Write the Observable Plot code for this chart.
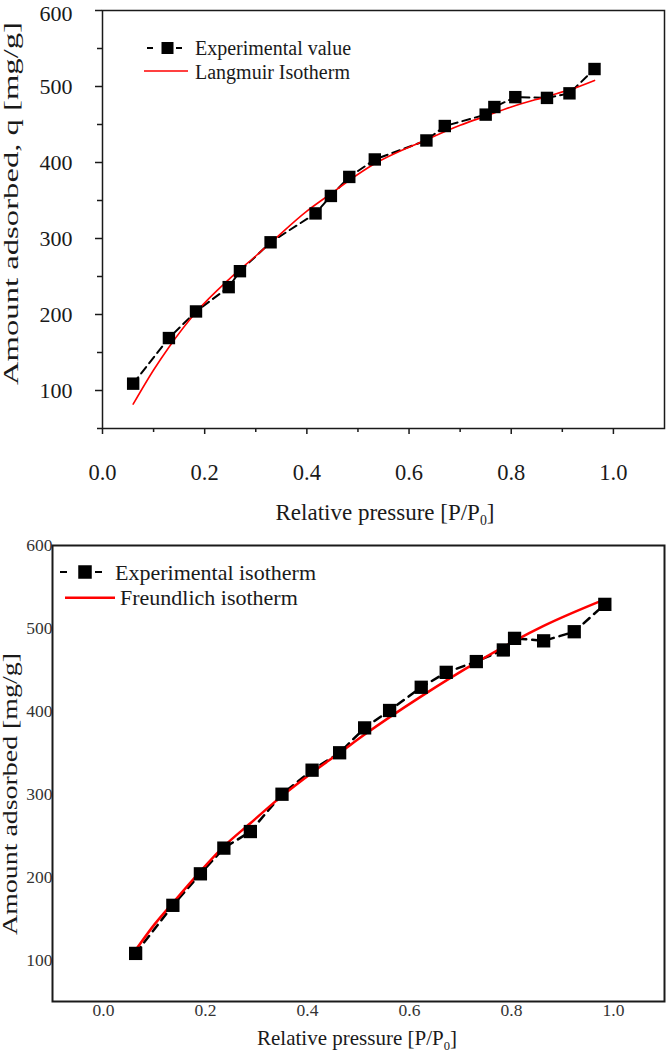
<!DOCTYPE html>
<html><head><meta charset="utf-8">
<script src="https://cdn.jsdelivr.net/npm/d3@7"></script>
<script src="https://cdn.jsdelivr.net/npm/@observablehq/plot@0.6"></script>
<style>
body{margin:0;background:#fff;width:666px;height:1054px;overflow:hidden;position:relative;}
#top,#bottom{position:absolute;left:0;}
#top{top:0}
#bottom{top:530px}
svg{overflow:visible}
</style></head><body>
<div id="top"></div><div id="bottom"></div>
<script>
// ---- Top chart (Langmuir) ----
const topPressure = [0.06,0.13,0.183,0.247,0.269,0.329,0.417,0.447,0.483,0.533,0.634,0.670,0.750,0.767,0.808,0.870,0.914,0.963];
const topAdsorbed = [109,169,204,236,257,295,333,356,381,404,429,448,463,473,486,485,491,523];
const langmuirPressure = [0.06,0.10,0.13,0.183,0.247,0.30,0.327,0.40,0.445,0.484,0.529,0.634,0.70,0.75,0.80,0.87,0.92,0.963];
const langmuirAdsorbed = [82,127,157,203,246,277,293,336,358,377,397,430,449,461,473,487,497,508];

// ---- Bottom chart (Freundlich) ----
const bottomPressure = [0.063,0.136,0.190,0.236,0.288,0.350,0.409,0.463,0.512,0.561,0.623,0.672,0.731,0.784,0.806,0.863,0.923,0.983];
const bottomAdsorbed = [108,166,204,235,255,300,329,350,380,401,429,447,460,474,488,485,496,529];
const freundlichPressure = [0.063,0.10,0.136,0.19,0.236,0.288,0.35,0.409,0.463,0.512,0.623,0.731,0.806,0.863,0.983];
const freundlichAdsorbed = [112,143,169,207,237,265,298,326,350,372,418,459,485,503,535];

// ---- Ticks & labels ----
const xMajorTicks = [0,0.2,0.4,0.6,0.8,1.0];
const xMinorTicks = [0.1,0.3,0.5,0.7,0.9];
const yMajorTicks = [100,200,300,400,500,600];
const yLowerLabels = [100,200,300,400,500];
const yTopLabel = [600];
const yMinorTicks = [50,150,250,350,450,550];
const topLegend = ["Experimental value","Langmuir Isotherm"];
const bottomLegend = ["Experimental isotherm","Freundlich isotherm"];
const xTitleMain = "Relative pressure [P/P";
const xTitleSub = "0";
const yTitleTop = "Amount adsorbed, q [mg/g]";
const yTitleBottom = "Amount adsorbed [mg/g]";

const expTop = topPressure.map((p,i)=>({p, q: topAdsorbed[i]}));
const fitTop = langmuirPressure.map((p,i)=>({p, q: langmuirAdsorbed[i]}));
const expBot = bottomPressure.map((p,i)=>({p, q: bottomAdsorbed[i]}));
const fitBot = freundlichPressure.map((p,i)=>({p, q: freundlichAdsorbed[i]}));
const fmt = d => d.toFixed(1);
const serif = "'Liberation Serif', 'Times New Roman', serif";

const topChart = Plot.plot({
  width:666, height:530, marginLeft:102, marginRight:2, marginTop:10, marginBottom:102,
  style:{fontFamily:serif, fontSize:"22.5px", color:"#1a1a1a", background:"#fff", overflow:"visible"},
  x:{domain:[0,1.1]}, y:{domain:[50,600]},
  marks:[
    Plot.axisX({ticks:xMajorTicks, tickFormat:fmt, tickSize:6, tickPadding:30, label:null, strokeWidth:1.5}),
    Plot.axisX({ticks:xMinorTicks, tickFormat:()=>"", tickSize:4, label:null, strokeWidth:1.5}),
    Plot.axisY({ticks:yMajorTicks, tickFormat:()=>"", tickSize:7, label:null, strokeWidth:1.5}),
    Plot.axisY({ticks:yLowerLabels, tickSize:0, tickPadding:30, label:null, fontSize:22}),
    Plot.axisY({ticks:yTopLabel, tickSize:0, tickPadding:30, label:null, fontSize:22, dy:3}),
    Plot.axisY({ticks:yMinorTicks, tickFormat:()=>"", tickSize:5, label:null, strokeWidth:1.5}),
    Plot.frame({stroke:"#1a1a1a", strokeWidth:1.5}),
    Plot.line(expTop,{x:"p", y:"q", stroke:"#000", strokeWidth:2, strokeDasharray:"8,5"}),
    Plot.line(fitTop,{x:"p", y:"q", stroke:"#ff0000", strokeWidth:1.6, curve:"monotone-x"}),
    Plot.dot(expTop,{x:"p", y:"q", symbol:"square", r:7, fill:"#000"})
  ]
});
document.getElementById("top").appendChild(topChart);

const botChart = Plot.plot({
  width:666, height:524, marginLeft:52, marginRight:2, marginTop:15, marginBottom:53,
  style:{fontFamily:serif, fontSize:"17.5px", color:"#333", background:"#fff", overflow:"visible"},
  x:{domain:[-0.1,1.1]}, y:{domain:[50,600]},
  marks:[
    Plot.axisX({ticks:xMajorTicks, tickFormat:fmt, tickSize:0, tickPadding:2, label:null}),
    Plot.axisY({ticks:yMajorTicks, tickSize:0, tickPadding:0, label:null}),
    Plot.frame({stroke:"#1a1a1a", strokeWidth:2}),
    Plot.line(expBot,{x:"p", y:"q", stroke:"#000", strokeWidth:2.5, strokeDasharray:"8,6"}),
    Plot.line(fitBot,{x:"p", y:"q", stroke:"#ff0000", strokeWidth:2.5, curve:"monotone-x"}),
    Plot.dot(expBot,{x:"p", y:"q", symbol:"square", r:7.5, fill:"#000"})
  ]
});
document.getElementById("bottom").appendChild(botChart);

function addDecor(svgNode, o){
  const svg = d3.select(svgNode);
  const g = svg.append("g").attr("font-family", serif).attr("fill", "#1a1a1a").attr("text-anchor","start");
  // legend: experimental
  g.append("line").attr("x1",o.d1[0]).attr("x2",o.d1[1]).attr("y1",o.ly1).attr("y2",o.ly1).attr("stroke","#000").attr("stroke-width",2);
  g.append("rect").attr("x",o.sq[0]-o.sq[1]/2).attr("y",o.ly1-o.sq[1]/2).attr("width",o.sq[1]).attr("height",o.sq[1]).attr("fill","#000");
  g.append("line").attr("x1",o.d2[0]).attr("x2",o.d2[1]).attr("y1",o.ly1).attr("y2",o.ly1).attr("stroke","#000").attr("stroke-width",2);
  g.append("text").attr("x",o.tx1).attr("y",o.tb1).attr("font-size",o.lfs).attr("text-anchor","start").text(o.legend[0]);
  // legend: fit
  g.append("line").attr("x1",o.rl[0]).attr("x2",o.rl[1]).attr("y1",o.ly2).attr("y2",o.ly2).attr("stroke","#ff0000").attr("stroke-width",o.rw);
  g.append("text").attr("x",o.tx2).attr("y",o.tb2).attr("font-size",o.lfs).attr("text-anchor","start").text(o.legend[1]);
  // x title
  const xt = g.append("text").attr("x",o.xtx).attr("y",o.xty).attr("font-size",o.xfs).attr("text-anchor","middle");
  xt.append("tspan").text(xTitleMain);
  xt.append("tspan").attr("font-size",o.xfs*0.6).attr("dy",o.xfs*0.22).text(xTitleSub);
  xt.append("tspan").attr("dy",-o.xfs*0.22).text("]");
  // y title
  g.append("text").attr("transform",`translate(${o.ytx},${o.yty}) rotate(-90)`)
    .attr("text-anchor","middle").attr("font-size",o.yfs)
    .attr("textLength",o.ylen).attr("lengthAdjust","spacingAndGlyphs").text(o.ytitle);
}

addDecor(topChart, {
  d1:[147,153], d2:[176,182], sq:[167.5,12], ly1:48, tx1:195, tb1:55,
  rl:[144,188], ly2:71, rw:1.6, tx2:195, tb2:78.5, lfs:20, legend:topLegend,
  xtx:385, xty:520, xfs:23, ytx:18, yty:203.5, yfs:22, ylen:363, ytitle:yTitleTop
});
addDecor(botChart, {
  d1:[60,67], d2:[95,102], sq:[85,13.5], ly1:42, tx1:115, tb1:49.5,
  rl:[65,115], ly2:67.7, rw:2.5, tx2:120, tb2:75, lfs:22, legend:bottomLegend,
  xtx:357, xty:515, xfs:21, ytx:17, yty:264, yfs:20, ylen:282, ytitle:yTitleBottom
});
</script>
</body></html>
